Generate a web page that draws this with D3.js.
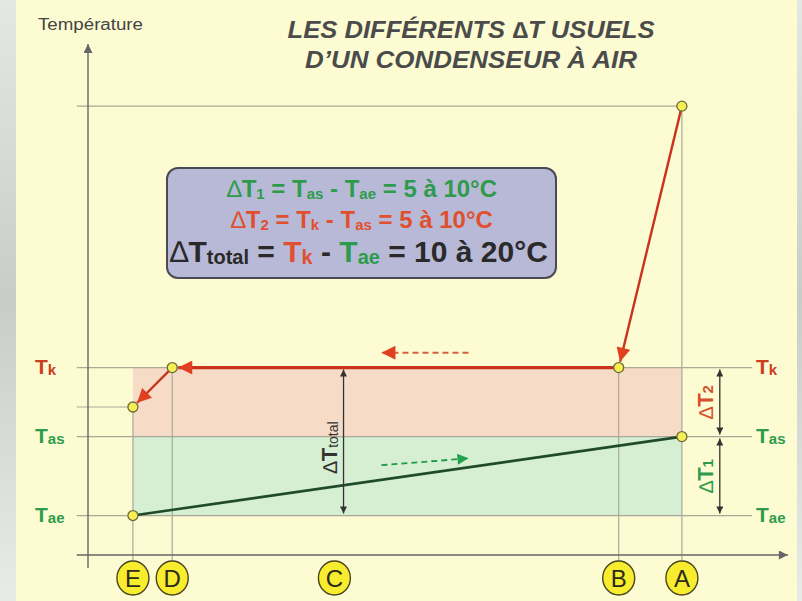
<!DOCTYPE html>
<html><head><meta charset="utf-8">
<script src="https://cdn.jsdelivr.net/npm/d3@7"></script>
<style>body{margin:0;background:#fff}svg{display:block}</style>
</head><body><svg id="c" width="802" height="601"></svg>
<script>
// ---------- data ----------
const stages = ["E", "D", "C", "B", "A"];
const stagePos = [6.4, 12, 35.1, 75.6, 84.6];          // position along the condenser
const levelNames = ["Tk", "Tas", "Tae"];
const levelTemps = [40, 33, 25];                        // °C (illustrative)
const refrigStages = ["A", "B", "D", "E"];
const refrigTemps = [66.5, 40, 40, 36];
const airStages = ["E", "A"];
const airTemps = [25, 33];
const titleLines = ["LES DIFFÉRENTS \u2206T USUELS", "D\u2019UN CONDENSEUR À AIR"];
const yAxisLabel = "Température";
const formula1 = [["\u2206", "g", 0, 1], ["T", "g"], ["1", "g", 1], [" = T", "g"], ["as", "g", 1], [" - T", "g"], ["ae", "g", 1], [" = 5 à 10°C", "g"]];
const formula2 = [["\u2206", "r", 0, 1], ["T", "r"], ["2", "r", 1], [" = T", "r"], ["k", "r", 1], [" - T", "r"], ["as", "r", 1], [" = 5 à 10°C", "r"]];
const formula3 = [["\u2206", "d", 0, 1], ["T", "d"], ["total", "d", 1], [" = ", "d"], ["T", "r"], ["k", "r", 1], [" - ", "d"], ["T", "g"], ["ae", "g", 1], [" = 10 à 20°C", "d"]];

// ---------- setup ----------
const C = { g: "#2e9b4c", r: "#e0502f", d: "#2a2a2a", line: "#c9331c", air: "#1f4a2b", grid: "#a9a89a" };
const svg = d3.select("#c");
const x = d3.scaleLinear().domain([0, 100]).range([88, 790]);
const y = d3.scaleLinear().domain([21, 73]).range([555, 42]);
const posOf = s => stagePos[stages.indexOf(s)];
const tempOf = n => levelTemps[levelNames.indexOf(n)];
const FONT = "'Liberation Sans', Arial, sans-serif";
const NARROW = "'Liberation Sans Narrow', 'Arial Narrow', 'Liberation Sans', sans-serif";

// background
const bg = svg.append("defs").append("linearGradient").attr("id", "side").attr("x1", 0).attr("y1", 0).attr("x2", 0).attr("y2", 1);
bg.append("stop").attr("offset", 0).attr("stop-color", "#e4e8e4");
bg.append("stop").attr("offset", 0.5).attr("stop-color", "#c9cdca");
bg.append("stop").attr("offset", 1).attr("stop-color", "#e8ebe8");
svg.append("rect").attr("width", 802).attr("height", 601).attr("fill", "url(#side)");
svg.append("rect").attr("x", 16).attr("y", 0).attr("width", 781).attr("height", 601).attr("fill", "#fcfbd2");

// markers
const defs = svg.select("defs");
function marker(id, color, w, h) {
  defs.append("marker").attr("id", id).attr("viewBox", "0 0 10 10").attr("refX", 10).attr("refY", 5)
    .attr("markerUnits", "userSpaceOnUse").attr("markerWidth", w).attr("markerHeight", h).attr("orient", "auto-start-reverse")
    .append("path").attr("d", "M0,0 L10,5 L0,10 Z").attr("fill", color);
}
marker("mRed", "#e0401f", 15, 14);
marker("mGreen", "#22a04a", 14, 11);
marker("mDark", "#333", 8, 7);
marker("mAxis", "#666", 10, 9);

// shaded bands
const xE = x(posOf("E")), xA = x(posOf("A"));
svg.append("rect").attr("x", xE).attr("width", xA - xE).attr("y", y(tempOf("Tk"))).attr("height", y(tempOf("Tas")) - y(tempOf("Tk"))).attr("fill", "#f6dcc6");
svg.append("rect").attr("x", xE).attr("width", xA - xE).attr("y", y(tempOf("Tas"))).attr("height", y(tempOf("Tae")) - y(tempOf("Tas"))).attr("fill", "#d6efd3");

// horizontal reference lines
const gridG = svg.append("g").attr("stroke", C.grid).attr("stroke-width", 1.2);
levelTemps.forEach(t => gridG.append("line").attr("x1", x(-1.6)).attr("x2", x(94.6)).attr("y1", y(t)).attr("y2", y(t)));
gridG.append("line").attr("x1", x(-1.6)).attr("x2", xA).attr("y1", y(refrigTemps[0])).attr("y2", y(refrigTemps[0]));
gridG.append("line").attr("x1", x(-1.6)).attr("x2", xE).attr("y1", y(refrigTemps[3])).attr("y2", y(refrigTemps[3]));
// vertical lines
refrigStages.forEach((s, i) => gridG.append("line").attr("x1", x(posOf(s))).attr("x2", x(posOf(s))).attr("y1", y(refrigTemps[i])).attr("y2", 562));

// axes
const xAxis = svg.append("g").attr("transform", `translate(0,${y(21)})`)
  .call(d3.axisBottom(x).tickValues([]).tickSizeOuter(0));
xAxis.select(".domain").attr("stroke", "#666").attr("stroke-width", 1.4).attr("d", `M${x(-1.6)},0H${x(99.7)}`).attr("marker-end", "url(#mAxis)");
const yAxis = svg.append("g").attr("transform", `translate(${x(0)},0)`)
  .call(d3.axisLeft(y).tickValues([]).tickSizeOuter(0));
yAxis.select(".domain").attr("stroke", "#666").attr("stroke-width", 1.4).attr("d", `M0,568V${y(72.8)}`).attr("marker-end", "url(#mAxis)");

// shortening helper for arrows ending at points
function shorten(p0, p1, d) {
  const dx = p1[0] - p0[0], dy = p1[1] - p0[1], L = Math.hypot(dx, dy);
  return [p1[0] - dx / L * d, p1[1] - dy / L * d];
}
const rPts = refrigStages.map((s, i) => [x(posOf(s)), y(refrigTemps[i])]);
// refrigerant path
[[0, 1, 2.4], [1, 2, 3.2], [2, 3, 2.4]].forEach(([a, b, w]) => {
  const e = shorten(rPts[a], rPts[b], 6);
  svg.append("line").attr("x1", rPts[a][0]).attr("y1", rPts[a][1]).attr("x2", e[0]).attr("y2", e[1])
    .attr("stroke", C.line).attr("stroke-width", w).attr("marker-end", "url(#mRed)");
});
// air path
const aPts = airStages.map((s, i) => [x(posOf(s)), y(airTemps[i])]);
svg.append("line").attr("x1", aPts[0][0]).attr("y1", aPts[0][1]).attr("x2", aPts[1][0]).attr("y2", aPts[1][1])
  .attr("stroke", C.air).attr("stroke-width", 2.6);

// dashed direction arrows
svg.append("line").attr("x1", x(54.2)).attr("y1", y(41.5)).attr("x2", x(41.8)).attr("y2", y(41.5))
  .attr("stroke", "#d5603f").attr("stroke-width", 1.8).attr("stroke-dasharray", "6,4").attr("marker-end", "url(#mRed)");
svg.append("line").attr("x1", x(41.8)).attr("y1", y(30.1)).attr("x2", x(54.2)).attr("y2", y(30.8))
  .attr("stroke", "#1f9a45").attr("stroke-width", 1.8).attr("stroke-dasharray", "6,4").attr("marker-end", "url(#mGreen)");

// double-headed ΔT arrows
function dbl(px, t0, t1) {
  svg.append("line").attr("x1", x(px)).attr("x2", x(px)).attr("y1", y(t0) + 2).attr("y2", y(t1) - 2)
    .attr("stroke", "#333").attr("stroke-width", 1.3).attr("marker-start", "url(#mDark)").attr("marker-end", "url(#mDark)");
}
dbl(36.4, tempOf("Tk"), tempOf("Tae"));
dbl(90, tempOf("Tk"), tempOf("Tas"));
dbl(90, tempOf("Tas"), tempOf("Tae"));

// points
const pts = rPts.concat(aPts);
svg.selectAll("circle.pt").data(pts).join("circle").attr("class", "pt")
  .attr("cx", d => d[0]).attr("cy", d => d[1]).attr("r", 5)
  .attr("fill", "#f6ee55").attr("stroke", "#6c6a3a").attr("stroke-width", 1.3);

// stage badges
const badge = svg.selectAll("g.badge").data(stages).join("g").attr("class", "badge")
  .attr("transform", (s, i) => `translate(${x(stagePos[i])},578)`);
badge.append("ellipse").attr("rx", 16).attr("ry", 17).attr("fill", "#f7ec2e").attr("stroke", "#4a4520").attr("stroke-width", 1.4);
badge.append("text").attr("text-anchor", "middle").attr("y", 9).attr("font-family", FONT).attr("font-size", 24)
  .attr("fill", "#2c2a18").text(d => d);

// level labels (T + subscript)
function tLabel(px, py, name, color) {
  const t = svg.append("text").attr("x", px).attr("y", py).attr("font-family", FONT).attr("font-weight", "bold").attr("fill", color);
  t.append("tspan").attr("font-size", 21).text("T");
  t.append("tspan").attr("font-size", 15).attr("dy", 1).text(name.slice(1));
}
levelNames.forEach((n, i) => {
  const col = n === "Tk" ? "#c9401f" : C.g;
  tLabel(35, y(levelTemps[i]) + 6, n, col);
  tLabel(756, y(levelTemps[i]) + 6, n, col);
});

// rotated ΔT labels
function rotLabel(px, py, sub, color, big) {
  const t = svg.append("text").attr("transform", `translate(${px},${py}) rotate(-90)`).attr("text-anchor", "middle")
    .attr("font-family", FONT).attr("fill", color);
  t.append("tspan").attr("font-size", big ? 20 : 20).attr("font-weight", "normal").text("\u2206");
  t.append("tspan").attr("font-size", big ? 22 : 22).attr("font-weight", "bold").text("T");
  t.append("tspan").attr("font-size", big ? 15 : 14).attr("font-weight", big ? "bold" : "normal").attr("dy", big ? 0 : 1).text(sub);
}
rotLabel(x(36.4) - 7, y(31.9), "total", "#333", false);
rotLabel(x(90) - 7, y(36.5), "2", "#d4502d", true);
rotLabel(x(90) - 7, y(29), "1", "#2e9b4c", true);

// formula box
svg.append("rect").attr("x", 167).attr("y", 168).attr("width", 389).attr("height", 110).attr("rx", 11)
  .attr("fill", "#b8b9d6").attr("stroke", "#4a4a55").attr("stroke-width", 2);
function formula(segs, cx, by, size, subSize) {
  const t = svg.append("text").attr("x", cx).attr("y", by).attr("text-anchor", "middle")
    .attr("font-family", FONT).attr("font-weight", "bold");
  let shift = 0;
  segs.forEach(([txt, c, sub, thin]) => {
    const want = sub ? 2 : 0;
    const ts = t.append("tspan").attr("fill", C[c]).attr("font-size", sub ? subSize : size).attr("dy", want - shift).text(txt);
    if (thin) ts.attr("font-weight", "normal");
    shift = want;
  });
}
formula(formula1, 362, 197, 24, 15);
formula(formula2, 362, 228, 24, 15);
formula(formula3, 359, 262, 30, 20);

// titles
svg.selectAll("text.title").data(titleLines).join("text").attr("class", "title")
  .attr("x", 471).attr("y", (d, i) => 38 + i * 30).attr("text-anchor", "middle")
  .attr("font-family", NARROW).attr("font-style", "italic").attr("font-weight", "bold").attr("font-size", 23)
  .attr("fill", "#4b4b4b").attr("textLength", (d, i) => i ? 332 : 367).attr("lengthAdjust", "spacingAndGlyphs").text(d => d);
svg.append("text").attr("x", 38).attr("y", 30).attr("font-family", NARROW).attr("font-size", 16).attr("fill", "#444")
  .attr("textLength", 105).attr("lengthAdjust", "spacingAndGlyphs").text(yAxisLabel);
</script></body></html>
